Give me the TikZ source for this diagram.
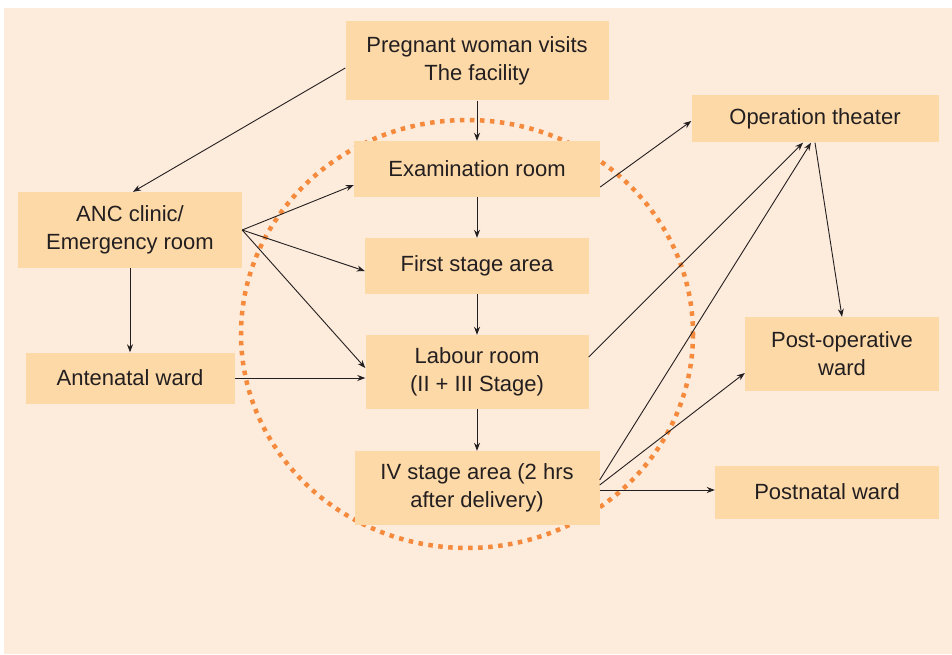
\documentclass[tikz,border=0pt]{standalone}
\usepackage{fontspec}
\setmainfont{Liberation Sans}
\usetikzlibrary{arrows.meta}
\definecolor{bgpeach}{HTML}{FDEBDB}
\definecolor{boxfill}{HTML}{FDD9A8}
\definecolor{ringorange}{HTML}{F58A3D}
\definecolor{ink}{HTML}{231F20}
\tikzset{
    room/.style={fill=boxfill, inner sep=0pt, align=center, text=ink,
        font=\fontsize{22}{28}\selectfont},
    flow/.style={-{Stealth[length=8pt,width=6pt]}, draw=ink, line width=0.9pt},
    ring/.style={draw=ringorange, line width=4.5pt, dash pattern=on 4.5pt off 5.5pt},
}

\begin{document}
\begin{tikzpicture}[x=1pt,y=-1pt]
    \useasboundingbox (0,0) rectangle (952,655);
    \fill[white] (0,0) rectangle (952,655);
    \fill[bgpeach] (4,8) rectangle (952,654);
    % dotted ring round the labour suite (behind the rooms)
    \draw[ring] (467,334) ellipse (226 and 214);
    % rooms
    \node[room, minimum width=263, minimum height=79] (preg) at (477,61) {Pregnant woman visits\\The facility};
    \node[room, minimum width=246, minimum height=56] (exam) at (477,169) {Examination room};
    \node[room, minimum width=224, minimum height=56] (first) at (477,266) {First stage area};
    \node[room, minimum width=223, minimum height=74] (labour) at (477,372) {Labour room\\(II + III Stage)};
    \node[room, minimum width=245, minimum height=74] (four) at (477,488) {IV stage area (2 hrs\\after delivery)};
    \node[room, minimum width=224, minimum height=76] (anc) at (130,230) {ANC clinic/\\Emergency room};
    \node[room, minimum width=209, minimum height=51] (ante) at (130,378) {Antenatal ward};
    \node[room, minimum width=247, minimum height=47] (ot) at (815,119) {Operation theater};
    \node[room, minimum width=194, minimum height=74] (postop) at (842,354) {Post-operative\\ward};
    \node[room, minimum width=224, minimum height=53] (postnat) at (827,492) {Postnatal ward};
    % flows
    \draw[flow] (preg) -- (exam);
    \draw[flow] (exam) -- (first);
    \draw[flow] (first) -- (labour);
    \draw[flow] (labour) -- (four);
    \draw[flow] (preg.west |- 0,68) -- (anc.north -| 133,0);
    \draw[flow] (anc.south) -- (ante.north);
    \draw[flow] (anc.east) -- (exam.west |- 0,185);
    \draw[flow] (anc.east) -- (first.west |- 0,271);
    \draw[flow] (anc.east) -- (labour.west |- 0,368);
    \draw[flow] (ante.east) -- (labour.west |- ante.east);
    \draw[flow] (exam.east |- 0,187) -- (ot.west |- 0,121);
    \draw[flow] (labour.east |- 0,357) -- (ot.south -| 803,0);
    \draw[flow] (four.east |- 0,480) -- (ot.south -| 811,0);
    \draw[flow] (four.east |- 0,485) -- (postop.west |- 0,373);
    \draw[flow] (four.east |- 0,490) -- (postnat.west |- 0,490);
    \draw[flow] (ot.south -| 815,0) -- (postop.north);
\end{tikzpicture}
\end{document}
